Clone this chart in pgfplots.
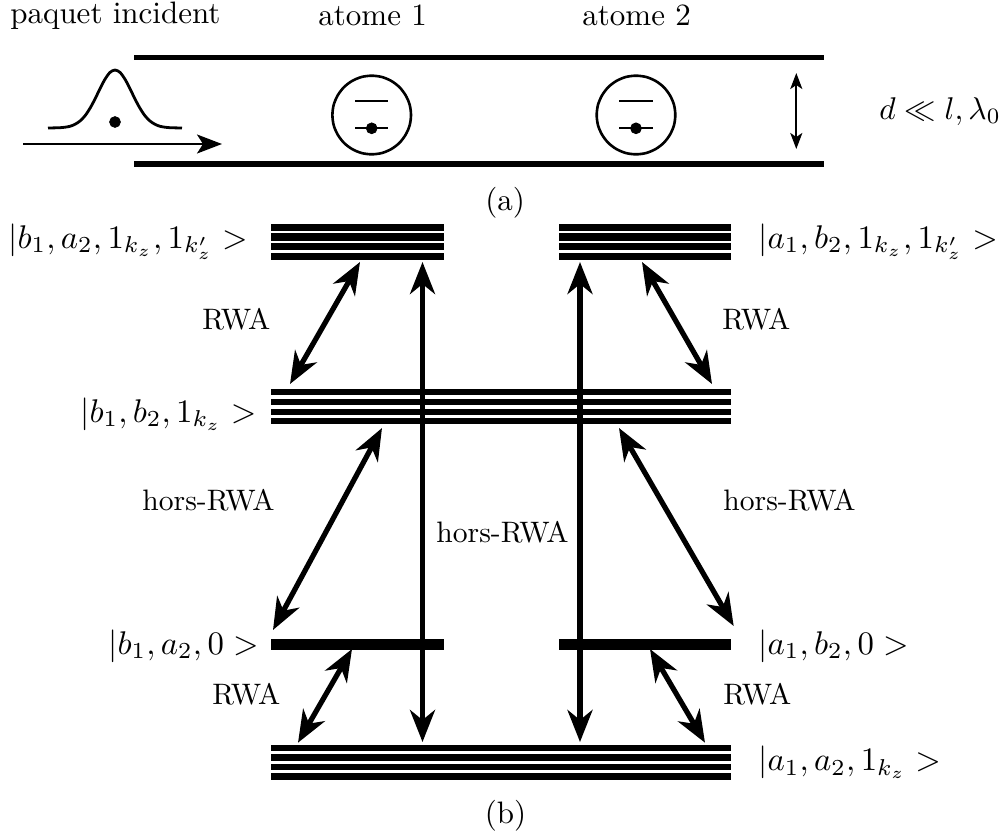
\documentclass[border=0pt]{standalone}
\usepackage{pgfplots}
\pgfplotsset{compat=1.18}
\usetikzlibrary{arrows.meta}
\newcommand{\T}[1]{\scalebox{1.55}{#1}}
\newcommand{\R}[1]{\scalebox{1.48}{#1}}
\newcommand{\M}[1]{\scalebox{1.64}{$#1$}}
\newcommand{\lab}[3]{\node[anchor=base west,inner sep=0pt] at (axis cs:#1,#2) {#3};}
\begin{document}
\begin{tikzpicture}
\useasboundingbox (0,0) rectangle (501pt,418pt);
\begin{axis}[at={(0,0)},anchor=south west,scale only axis,width=501pt,height=418pt,xmin=0,xmax=1002,ymin=0,ymax=836,y dir=reverse,
  axis lines=none,clip=false,
  every axis plot/.append style={black,line cap=butt,no markers}]
% waveguide
\addplot[line width=2.6pt] coordinates {(134,57.5)(824,57.5)};
\addplot[line width=2.6pt] coordinates {(134,164)(824,164)};
% levels top
\addplot[line width=3.6pt] coordinates {(271,227.5)(443.5,227.5)};
\addplot[line width=3.6pt] coordinates {(271,237)(443.5,237)};
\addplot[line width=3.6pt] coordinates {(271,246.8)(443.5,246.8)};
\addplot[line width=3.6pt] coordinates {(271,256.5)(443.5,256.5)};
\addplot[line width=3.6pt] coordinates {(559,227.5)(731,227.5)};
\addplot[line width=3.6pt] coordinates {(559,237)(731,237)};
\addplot[line width=3.6pt] coordinates {(559,246.8)(731,246.8)};
\addplot[line width=3.6pt] coordinates {(559,256.5)(731,256.5)};
% middle
\addplot[line width=3.2pt] coordinates {(271,392.2)(731,392.2)};
\addplot[line width=3.2pt] coordinates {(271,402)(731,402)};
\addplot[line width=3.2pt] coordinates {(271,411.7)(731,411.7)};
\addplot[line width=3.2pt] coordinates {(271,421.2)(731,421.2)};
% lower
\addplot[line width=5.4pt] coordinates {(271,644.3)(443.5,644.3)};
\addplot[line width=5.4pt] coordinates {(559,644.3)(731,644.3)};
% bottom
\addplot[line width=3.2pt] coordinates {(271,747.8)(731,747.8)};
\addplot[line width=3.2pt] coordinates {(271,757.3)(731,757.3)};
\addplot[line width=3.2pt] coordinates {(271,767)(731,767)};
\addplot[line width=3.2pt] coordinates {(271,776.5)(731,776.5)};
% big arrows
\pgfplotsset{dbl/.style={line width=2.6pt,{Stealth[length=16pt,width=12.5pt,inset=5pt]}-{Stealth[length=16pt,width=12.5pt,inset=5pt]}}}
\addplot[dbl] coordinates {(422.5,262)(422.5,742)};
\addplot[dbl] coordinates {(580,262)(580,742)};
\addplot[dbl] coordinates {(360,262)(290,384)};
\addplot[dbl] coordinates {(642,262)(712,384)};
\addplot[dbl] coordinates {(382,428)(273,630)};
\addplot[dbl] coordinates {(619,428)(733.7,626)};
\addplot[dbl] coordinates {(352,649)(298,742.7)};
\addplot[dbl] coordinates {(650,649)(705,742.7)};
% thin arrows
\addplot[line width=1pt,{Stealth[length=8pt,width=6pt,inset=2pt]}-{Stealth[length=8pt,width=6pt,inset=2pt]}] coordinates {(796.3,73)(796.3,149)};
\addplot[line width=1pt,-{Stealth[length=12.5pt,width=9.5pt,inset=3pt]}] coordinates {(23,144)(222,144)};
% gaussian
\addplot[line width=1.4pt,smooth] coordinates {(48,128)(60,127.7)(65,127.2)(70,126.3)(75,124.3)(80,121)(85,115.8)(90,108.3)(95,99)(100,88.7)(105,79.2)(110,72.4)(115,70)(120,72.4)(125,79.2)(130,88.7)(135,99)(140,108.3)(145,115.8)(150,121)(155,124.3)(160,126.3)(165,127.2)(170,127.7)(182,128)};
% atoms levels
\addplot[line width=1pt] coordinates {(355,101)(388,101)};
\addplot[line width=1pt] coordinates {(355,128.3)(388,128.3)};
\addplot[line width=1pt] coordinates {(619,101)(653,101)};
\addplot[line width=1pt] coordinates {(619,128.3)(653,128.3)};
% circles
\addplot[line width=1.3pt,smooth cycle] coordinates {(411,115)(409.7,125.2)(405.7,134.6)(399.5,142.8)(391.4,149)(381.9,153)(371.7,154.3)(361.5,153)(352,149)(343.9,142.8)(337.7,134.6)(333.7,125.2)(332.4,115)(333.7,104.8)(337.7,95.4)(343.9,87.2)(352,81)(361.5,77)(371.7,75.7)(381.9,77)(391.4,81)(399.5,87.2)(405.7,95.4)(409.7,104.8)};
\addplot[line width=1.3pt,smooth cycle] coordinates {(675.3,115)(674,125.2)(670,134.6)(663.8,142.8)(655.7,149)(646.2,153)(636,154.3)(625.8,153)(616.3,149)(608.2,142.8)(602,134.6)(598,125.2)(596.7,115)(598,104.8)(602,95.4)(608.2,87.2)(616.3,81)(625.8,77)(636,75.7)(646.2,77)(655.7,81)(663.8,87.2)(670,95.4)(674,104.8)};
% dots
\addplot[only marks,mark=*,mark size=2.7pt,mark options={draw=black,fill=black}] coordinates {(115,122)(371.7,128.3)(636,128.3)};
% text
\lab{10}{23}{\T{paquet incident}}
\lab{318}{25.7}{\T{atome 1}}
\lab{582}{25.7}{\T{atome 2}}
\lab{879}{119}{\scalebox{1.57}{$d\ll l,\lambda_0$}}
\lab{485}{210}{\T{(a)}}
\lab{484.5}{823}{\T{(b)}}
\lab{8}{248}{\M{|b_1,a_2,1_{k_z},1_{k'_z}>}}
\lab{758}{248}{\M{|a_1,b_2,1_{k_z},1_{k'_z}>}}
\lab{80}{422}{\M{|b_1,b_2,1_{k_z}>}}
\lab{108}{654}{\M{|b_1,a_2,0>}}
\lab{758}{654}{\M{|a_1,b_2,0>}}
\lab{758}{770.7}{\M{|a_1,a_2,1_{k_z}>}}
\lab{202}{329}{\R{RWA}}
\lab{722}{329}{\R{RWA}}
\lab{212}{704}{\R{RWA}}
\lab{723}{704}{\R{RWA}}
\lab{142}{510.7}{\R{hors-RWA}}
\lab{436}{542}{\R{hors-RWA}}
\lab{723}{510.7}{\R{hors-RWA}}
\end{axis}
\end{tikzpicture}
\end{document}
